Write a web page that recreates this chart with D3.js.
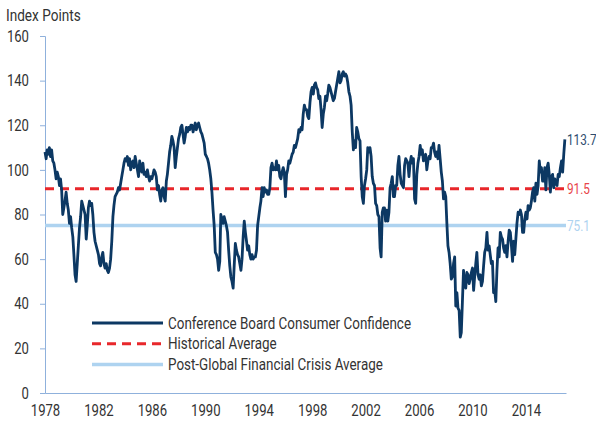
<!DOCTYPE html>
<html lang='en'>
<head>
    <meta charset='utf-8'>
    <title>Consumer Confidence</title>
    <script src="https://d3js.org/d3.v7.min.js"></script>
    <style>
        body { margin: 0; background: white; }
        text { font-family: Roboto, "Liberation Sans", sans-serif; fill: #333; }
    </style>
</head>
<body>
    <div id='chart'></div>
    <script>
        // monthly index, Jan 1978 .. Dec 2016
        const startYear = 1978;
        const confidence = [
            108, 105, 109, 107, 110, 106, 109, 104, 103, 100, 96, 99,   // 1978
            97, 93, 96, 91, 80, 83, 86, 90, 85, 82, 76, 79,            // 1979
            74, 70, 62, 53, 50, 58, 66, 74, 79, 86, 84, 82,            // 1980
            80, 69, 75, 83, 86, 84, 85, 80, 72, 68, 66, 64,            // 1981
            62, 58, 57, 61, 63, 58, 56, 58, 55, 54, 56, 60,            // 1982
            68, 79, 84, 88, 89, 90, 92, 91, 94, 97, 100, 103,          // 1983
            105, 104, 106, 102, 105, 100, 103, 104, 101, 106, 103, 100, // 1984
            97, 104, 101, 99, 103, 98, 99, 97, 100, 97, 95, 97,        // 1985
            96, 98, 100, 99, 97, 91, 93, 89, 86, 91, 92, 88,           // 1986
            86, 95, 98, 103, 108, 111, 115, 113, 110, 101, 106, 110,   // 1987
            114, 116, 119, 120, 116, 112, 115, 119, 117, 119, 118, 120, // 1988
            120, 117, 119, 121, 118, 120, 121, 119, 117, 116, 114, 112, // 1989
            107, 106, 105, 103, 100, 96, 90, 82, 75, 63, 62, 60,       // 1990
            55, 59, 80, 78, 76, 79, 77, 75, 72, 64, 57, 52,            // 1991
            50, 47, 57, 67, 64, 62, 61, 58, 55, 60, 70, 77,            // 1992
            72, 68, 64, 66, 62, 60, 62, 60, 61, 61, 64, 75,            // 1993
            79, 83, 86, 92, 88, 92, 90, 91, 89, 89, 92, 101,           // 1994
            103, 100, 101, 100, 104, 100, 102, 97, 96, 99, 101, 99,    // 1995
            88, 98, 100, 104, 103, 105, 107, 108, 111, 110, 112, 114,  // 1996
            118, 117, 119, 118, 125, 129, 127, 127, 124, 123, 130, 135, // 1997
            137, 134, 138, 139, 137, 136, 132, 133, 127, 119, 125, 128, // 1998
            133, 131, 134, 138, 137, 135, 133, 131, 132, 135, 138, 141, // 1999
            144, 139, 140, 143, 144, 142, 143, 142, 139, 135, 133, 129, // 2000
            117, 109, 113, 110, 119, 117, 114, 113, 97, 88, 85, 93,    // 2001
            96, 100, 110, 108, 110, 106, 97, 94, 93, 85, 84, 80,       // 2002
            79, 65, 61, 81, 83, 83, 77, 82, 77, 81, 92, 94,            // 2003
            97, 88, 88, 93, 93, 102, 106, 98, 94, 93, 92, 102,         // 2004
            105, 104, 103, 97, 103, 106, 103, 105, 87, 85, 98, 103,    // 2005
            106, 111, 107, 109, 104, 105, 107, 100, 104, 106, 105, 110, // 2006
            110, 112, 108, 106, 108, 105, 111, 105, 99, 95, 87, 90,    // 2007
            88, 76, 66, 63, 58, 51, 52, 58, 61, 39, 45, 38,            // 2008
            37, 25, 27, 41, 55, 49, 47, 54, 53, 49, 51, 54,            // 2009
            56, 46, 52, 58, 63, 53, 51, 53, 48, 50, 57, 63,            // 2010
            65, 72, 64, 66, 62, 58, 59, 45, 46, 41, 55, 65,            // 2011
            61, 72, 70, 69, 65, 63, 66, 61, 68, 73, 72, 66,            // 2012
            59, 68, 62, 69, 76, 81, 80, 82, 80, 72, 72, 78,            // 2013
            81, 78, 84, 82, 83, 86, 90, 92, 86, 94, 89, 93,            // 2014
            104, 99, 101, 95, 95, 101, 91, 101, 103, 98, 90, 97,       // 2015
            98, 92, 96, 94, 93, 98, 97, 101, 104, 99, 107, 113.7       // 2016
        ];
        const historicalAvg = 91.5;
        const postGfcAvg = 75.1;
        const yTicks = [0, 20, 40, 60, 80, 100, 120, 140, 160];
        const xTicks = [1978, 1982, 1986, 1990, 1994, 1998, 2002, 2006, 2010, 2014];
        const legendLabels = ["Conference Board Consumer Confidence", "Historical Average", "Post-Global Financial Crisis Average"];

        const colors = {navy: "#0c3863", red: "#e8272b", light: "#aed3f0", axis: "#8fb1dc"};

        let width = 596, height = 421;
        let margin = {top: 36, right: 30, bottom: 28, left: 45};

        let svg = d3.select("#chart")
                    .append("svg")
                        .attr("width", width)
                        .attr("height", height);

        // squeeze text horizontally round its own anchor point (condensed look)
        let narrow = (sel, k) => {
            sel.each(function(){
                let t = d3.select(this);
                let tx = +t.attr("x") || 0;
                t.attr("transform", `translate(${tx},0) scale(${k},1) translate(${-tx},0)`);
            });
        }

        let data = confidence.map((v, i) => ({date: new Date(startYear + Math.floor(i / 12), i % 12, 1), value: v}));

        let x = d3.scaleTime()
            .domain([new Date(1978, 0, 1), new Date(2017, 0, 1)])
            .range([margin.left, width - margin.right]);

        let y = d3.scaleLinear()
            .domain([0, 160])
            .range([height - margin.bottom, margin.top]);

        //y axis
        let yAxis = svg.append("g")
            .attr("transform", `translate(${margin.left},0)`)
            .call(d3.axisLeft(y).tickValues(yTicks).tickSize(5).tickPadding(11).tickSizeOuter(5));
        yAxis.select(".domain").attr("stroke", colors.axis);
        yAxis.selectAll(".tick line").attr("stroke", colors.axis);
        yAxis.selectAll("text").style("font-size", "16px").attr("fill", "#333").call(narrow, 0.82);

        //x axis
        let xAxis = svg.append("g")
            .attr("transform", `translate(0,${y(0)})`)
            .call(d3.axisBottom(x).tickValues(xTicks.map(t => new Date(t, 0, 1))).tickSize(0).tickSizeOuter(0).tickPadding(12).tickFormat(d3.timeFormat("%Y")));
        xAxis.select(".domain").attr("stroke", colors.axis);
        xAxis.selectAll("text").style("font-size", "16px").attr("fill", "#333").call(narrow, 0.82);

        svg.append("text")
            .attr("x", 6)
            .attr("y", 21)
            .style("font-size", "16px")
            .text("Index Points")
            .call(narrow, 0.85);

        //average lines
        svg.append("line")
            .attr("x1", x.range()[0]).attr("x2", x.range()[1])
            .attr("y1", y(postGfcAvg)).attr("y2", y(postGfcAvg))
            .attr("stroke", colors.light)
            .attr("stroke-width", 3.5);

        svg.append("line")
            .attr("x1", x.range()[0]).attr("x2", x.range()[1])
            .attr("y1", y(historicalAvg)).attr("y2", y(historicalAvg))
            .attr("stroke", colors.red)
            .attr("stroke-width", 3)
            .attr("stroke-dasharray", "9,6");

        //main series
        svg.append("path")
            .datum(data)
            .attr("fill", "none")
            .attr("stroke", colors.navy)
            .attr("stroke-width", 2.8)
            .attr("stroke-linejoin", "round")
            .attr("d", d3.line().x(d => x(d.date)).y(d => y(d.value)));

        //end labels
        let last = data[data.length - 1];
        let endLabels = [
            {v: last.value, c: "#2e4d6e", t: d3.format(".1f")(last.value)},
            {v: historicalAvg, c: "#e8454a", t: historicalAvg.toFixed(1)},
            {v: postGfcAvg, c: "#aed3f0", t: postGfcAvg.toFixed(1)}
        ];
        svg.selectAll(".endlabel")
            .data(endLabels)
            .enter()
            .append("text")
                .attr("x", x.range()[1] + 1)
                .attr("y", d => y(d.v))
                .attr("dy", "0.35em")
                .style("font-size", "15.5px")
                .style("fill", d => d.c)
                .text(d => d.t)
                .call(narrow, 0.76);

        //legend
        let legend = svg.append("g").attr("transform", "translate(92,323)");
        legendLabels.forEach((label, i) => {
            let ly = i * 20.7;
            let line = legend.append("line")
                .attr("x1", 0).attr("x2", 71)
                .attr("y1", ly).attr("y2", ly);
            if (i == 0) line.attr("stroke", colors.navy).attr("stroke-width", 3);
            if (i == 1) line.attr("stroke", colors.red).attr("stroke-width", 3).attr("stroke-dasharray", "9,6");
            if (i == 2) line.attr("stroke", colors.light).attr("stroke-width", 3.5);
            legend.append("text")
                .attr("x", 76)
                .attr("y", ly)
                .attr("dy", "0.35em")
                .style("font-size", "16px")
                .text(label)
                .call(narrow, 0.84);
        });
    </script>
</body>
</html>
